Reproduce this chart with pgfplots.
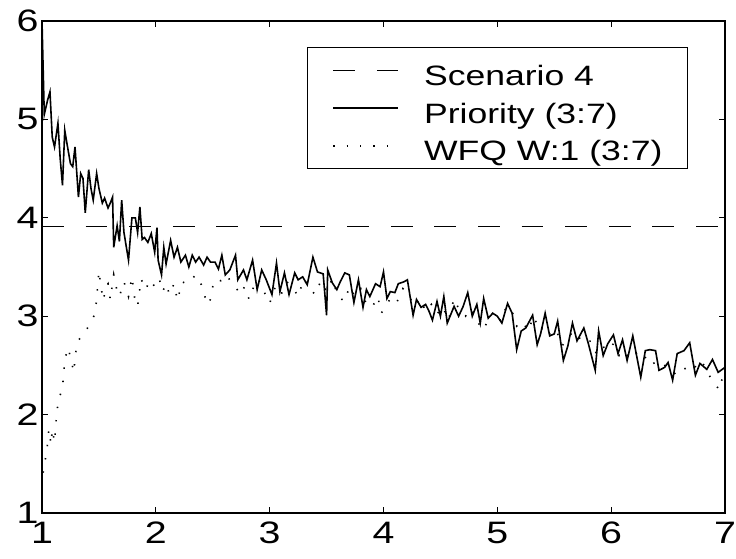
\documentclass[border=0pt]{standalone}
\usepackage{fontspec}
\setmainfont[FakeStretch=1.27]{Liberation Sans}
\usepackage{pgfplots}
\usepackage{pgfplotstable}
\pgfplotsset{compat=1.18}

\pgfplotstableread{
x y
1.00 6.00
1.02 5.05
1.05 5.20
1.07 5.28
1.09 4.82
1.11 4.72
1.14 4.96
1.16 4.60
1.18 4.33
1.20 4.89
1.22 4.75
1.25 4.55
1.27 4.52
1.29 4.72
1.32 4.21
1.34 4.45
1.36 4.40
1.38 4.05
1.41 4.49
1.43 4.30
1.45 4.18
1.48 4.45
1.50 4.30
1.53 4.15
1.55 4.20
1.58 4.10
1.60 4.15
1.62 4.21
1.63 3.70
1.66 3.92
1.68 3.76
1.70 4.18
1.72 3.85
1.76 3.57
1.79 4.00
1.82 4.00
1.84 3.85
1.86 4.11
1.88 3.78
1.90 3.80
1.93 3.75
1.96 3.84
1.99 3.65
2.01 3.90
2.02 3.57
2.05 3.42
2.07 3.70
2.09 3.53
2.13 3.77
2.16 3.60
2.19 3.70
2.22 3.55
2.26 3.62
2.29 3.50
2.32 3.62
2.35 3.55
2.38 3.60
2.42 3.52
2.45 3.60
2.48 3.55
2.52 3.55
2.55 3.48
2.58 3.62
2.61 3.42
2.65 3.47
2.70 3.62
2.72 3.37
2.77 3.47
2.80 3.37
2.85 3.57
2.89 3.27
2.93 3.47
2.97 3.37
3.02 3.22
3.06 3.54
3.09 3.25
3.13 3.44
3.17 3.22
3.22 3.44
3.25 3.37
3.29 3.40
3.33 3.32
3.38 3.60
3.42 3.45
3.47 3.43
3.50 3.01
3.51 3.47
3.55 3.34
3.59 3.27
3.62 3.35
3.66 3.44
3.70 3.42
3.74 3.14
3.78 3.37
3.82 3.09
3.85 3.27
3.88 3.20
3.93 3.33
3.97 3.30
4.00 3.45
4.03 3.18
4.06 3.25
4.10 3.24
4.13 3.33
4.18 3.35
4.21 3.37
4.26 3.01
4.29 3.17
4.33 3.09
4.37 3.12
4.40 3.05
4.43 2.96
4.47 3.15
4.50 3.00
4.53 3.20
4.56 2.93
4.62 3.10
4.66 3.00
4.70 3.10
4.74 3.24
4.78 3.00
4.82 3.12
4.85 2.93
4.88 3.18
4.92 2.98
4.96 3.03
5.00 3.00
5.04 2.93
5.09 3.13
5.13 3.03
5.17 2.66
5.21 2.85
5.25 2.88
5.31 3.01
5.35 2.71
5.38 2.82
5.42 3.03
5.46 2.80
5.50 2.82
5.53 2.95
5.58 2.55
5.62 2.70
5.66 2.93
5.70 2.75
5.76 2.88
5.80 2.72
5.86 2.45
5.89 2.85
5.93 2.60
5.97 2.72
6.02 2.81
6.06 2.62
6.10 2.76
6.14 2.55
6.19 2.80
6.22 2.62
6.26 2.38
6.30 2.65
6.34 2.66
6.39 2.65
6.42 2.45
6.47 2.48
6.50 2.53
6.54 2.35
6.58 2.62
6.64 2.65
6.69 2.73
6.74 2.40
6.78 2.52
6.84 2.46
6.89 2.56
6.94 2.43
7.00 2.48
}\priority

\pgfplotstableread{
x y
1.01 1.41
1.03 1.55
1.05 1.71
1.06 1.85
1.08 1.70
1.09 1.85
1.11 1.72
1.13 2.03
1.15 2.17
1.18 2.26
1.19 2.42
1.20 2.56
1.23 2.68
1.26 2.53
1.28 2.43
1.29 2.58
1.31 2.74
1.35 2.80
1.40 2.88
1.46 3.01
1.48 3.16
1.49 3.32
1.50 3.46
1.52 3.28
1.54 3.16
1.56 3.30
1.58 3.33
1.60 3.17
1.63 3.42
1.65 3.30
1.68 3.20
1.72 3.35
1.76 3.20
1.79 3.40
1.82 3.13
1.84 3.10
1.87 3.38
1.91 3.27
1.95 3.37
1.99 3.30
2.03 3.38
2.06 3.25
2.09 3.33
2.12 3.22
2.16 3.33
2.19 3.16
2.23 3.35
2.27 3.33
2.31 3.37
2.35 3.42
2.38 3.36
2.41 3.30
2.44 3.16
2.47 3.12
2.50 3.30
2.53 3.38
2.57 3.36
2.62 3.42
2.66 3.35
2.70 3.30
2.74 3.22
2.78 3.30
2.82 3.17
2.86 3.30
2.90 3.38
2.95 3.25
3.00 3.13
3.05 3.30
3.10 3.22
3.15 3.35
3.20 3.30
3.25 3.20
3.30 3.38
3.35 3.28
3.40 3.22
3.45 3.36
3.50 3.25
3.55 3.38
3.60 3.20
3.66 3.15
3.70 3.30
3.75 3.20
3.80 3.28
3.85 3.12
3.90 3.09
3.95 3.20
3.98 3.03
4.02 3.10
4.07 3.20
4.12 3.15
4.17 3.28
4.22 3.22
4.27 3.10
4.32 3.18
4.37 3.05
4.42 3.12
4.47 3.02
4.52 3.10
4.57 2.96
4.62 3.18
4.67 3.05
4.72 3.00
4.77 3.08
4.82 2.95
4.88 2.86
4.93 3.00
4.98 3.05
5.03 2.95
5.08 3.10
5.13 3.05
5.17 2.90
5.22 2.95
5.27 2.85
5.32 3.00
5.37 2.85
5.42 2.90
5.47 2.80
5.52 2.85
5.57 2.70
5.62 2.78
5.67 2.85
5.72 2.78
5.77 2.72
5.82 2.75
5.87 2.62
5.92 2.70
5.97 2.65
6.02 2.72
6.07 2.60
6.12 2.65
6.17 2.56
6.22 2.62
6.27 2.55
6.32 2.60
6.37 2.52
6.42 2.55
6.47 2.50
6.52 2.48
6.57 2.40
6.62 2.45
6.67 2.48
6.72 2.45
6.77 2.55
6.82 2.50
6.87 2.38
6.92 2.30
6.95 2.25
7.00 2.48
}\wfq

\begin{document}
\begin{tikzpicture}
\begin{axis}[
  at={(0pt,0pt)}, anchor=south west,
  width=683pt, height=492pt, scale only axis,
  xmin=1, xmax=7, ymin=1, ymax=6,
  xtick={1,2,3,4,5,6,7}, ytick={1,2,3,4,5,6},
  tick align=inside, major tick length=6pt,
  axis line style={line width=1.5pt},
  major tick style={black, line width=1.2pt},
  tick label style={font=\fontsize{31}{31}\selectfont},
  /pgf/number format/assume math mode=true,
  xticklabel style={anchor=north, yshift=-4.5pt, text height=22pt, text depth=0pt},
  legend style={
    at={(axis description cs:0.946,0.947)}, anchor=north east,
    draw=black, line width=1.3pt,
    font=\fontsize{28}{28}\selectfont,
    inner xsep=25pt, inner ysep=4pt,
    row sep=-0.5pt, column sep=25pt,
    nodes={inner xsep=0pt, inner ysep=0pt, text height=34pt, text depth=4pt},
  },
  legend cell align=left,
  legend image code/.code={\path (0pt,0pt); \draw[#1] (0pt,0pt) -- (65pt,0pt);},
]
\addplot[black, line width=1.5pt, dash pattern=on 21.7pt off 21.9pt] coordinates {(1,3.91) (7,3.91)};
\addlegendentry{Scenario 4}
\addplot[black, line width=1.6pt] table {\priority};
\addlegendentry{Priority (3:7)}
\addplot[black, line width=1.6pt, dash pattern=on 1.4pt off 12pt] table {\wfq};
\addlegendentry{WFQ W:1 (3:7)}
\end{axis}
\pgfresetboundingbox
\path[use as bounding box] (-42pt,-45pt) rectangle (694pt,513pt);
\end{tikzpicture}
\end{document}
